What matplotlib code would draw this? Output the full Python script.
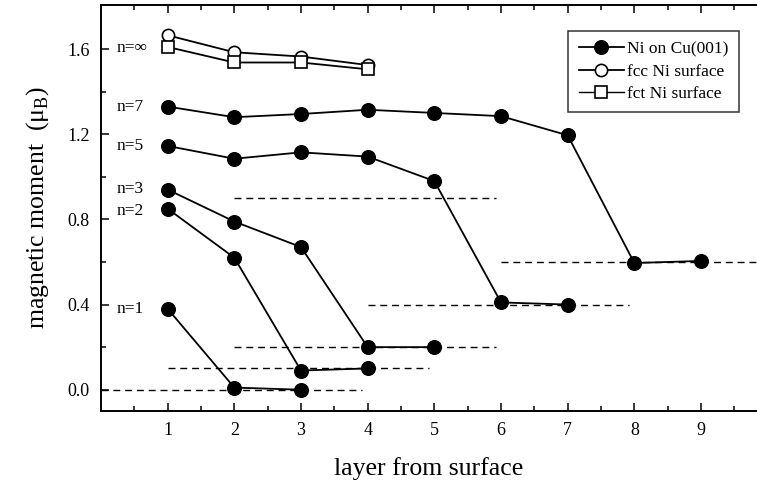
import matplotlib
matplotlib.use('Agg')
import matplotlib.pyplot as plt

plt.rcParams['font.family'] = ['Liberation Serif', 'DejaVu Serif']
plt.rcParams['mathtext.fontset'] = 'custom'
plt.rcParams['mathtext.rm'] = 'Liberation Serif'

# Ni on Cu(001), n layers
layers = [1, 2, 3, 4, 5, 6, 7, 8, 9]
ni_n1 = [0.38, 0.01, 0.00]
ni_n2 = [0.85, 0.62, 0.09, 0.10]
ni_n3 = [0.94, 0.79, 0.67, 0.20, 0.20]
ni_n5 = [1.145, 1.085, 1.115, 1.095, 0.98, 0.41, 0.40]
ni_n7 = [1.33, 1.28, 1.295, 1.315, 1.30, 1.285, 1.195, 0.595, 0.605]

# bulk-like surfaces
fcc_surf = [1.665, 1.585, 1.565, 1.525]
fct_surf = [1.61, 1.537, 1.537, 1.505]

# dashed reference levels
dash_y = [0.0, 0.1, 0.2, 0.9, 0.4, 0.6]
dash_x0 = [0, 1, 2, 2, 4, 6]
dash_x1 = [3.92, 4.92, 5.92, 5.92, 7.92, 10]

label_text = ['n=∞', 'n=7', 'n=5', 'n=3', 'n=2', 'n=1']
label_y = [1.605, 1.33, 1.145, 0.945, 0.84, 0.38]

fig = plt.figure(figsize=(7.57, 4.82), dpi=100)
ax = fig.add_axes([0.1334, 0.1473, 0.8666, 0.8423])

for y, a, b in zip(dash_y, dash_x0, dash_x1):
    ax.plot([a, b], [y, y], color='black', linestyle=(0, (5, 3.5)), linewidth=1.0, zorder=1)

ms = 9.8
lw = 1.3
for vals in [ni_n1, ni_n2, ni_n3, ni_n5, ni_n7]:
    ax.plot(layers[:len(vals)], vals, '-o', color='black', markersize=ms,
            linewidth=lw, zorder=3)

ax.plot(layers[:4], fcc_surf, '-o', color='black', markerfacecolor='white',
        markersize=8.8, markeredgewidth=1.2, linewidth=lw, zorder=3)
ax.plot(layers[:4], fct_surf, '-s', color='black', markerfacecolor='white',
        markersize=8.2, markeredgewidth=1.2, linewidth=lw, zorder=4)

# legend proxies
h1, = ax.plot([], [], '-o', color='black', markersize=ms, linewidth=lw)
h2, = ax.plot([], [], '-o', color='black', markerfacecolor='white', markersize=8.8,
              markeredgewidth=1.2, linewidth=lw)
h3, = ax.plot([], [], '-s', color='black', markerfacecolor='white', markersize=8.2,
              markeredgewidth=1.2, linewidth=1.0)
leg = ax.legend([h1, h2, h3], ['Ni on Cu(001)', 'fcc Ni surface', 'fct Ni surface'],
                loc='upper right', bbox_to_anchor=(0.988, 0.954),
                bbox_transform=fig.transFigure, fontsize=12.5, frameon=True,
                fancybox=False, edgecolor='black', handlelength=2.6,
                handletextpad=0.2, borderpad=0.6, labelspacing=0.35)
leg.get_frame().set_linewidth(1.1)

for t, y in zip(label_text, label_y):
    ax.text(0.24, y, t, fontsize=12.5, ha='left', va='center')

ax.set_xlim(0, 9.84)
ax.set_ylim(-0.1, 1.807)
ax.set_xticks(layers)
ax.set_xticks([i + 0.5 for i in range(10)], minor=True)
ax.set_yticks([0.0, 0.4, 0.8, 1.2, 1.6])
ax.set_yticks([0.2, 0.6, 1.0, 1.4], minor=True)
ax.set_yticklabels(['0.0', '0.4', '0.8', '1.2', '1.6'])

ax.tick_params(which='both', direction='in', top=True, right=False, labelsize=13,
               width=1.1, pad=8)
ax.tick_params(which='major', length=6)
ax.tick_params(which='minor', length=3.5)
ax.spines['right'].set_visible(False)
for s in ['left', 'top', 'bottom']:
    ax.spines[s].set_linewidth(1.4)

ax.set_xlabel('layer from surface', fontsize=18.5, labelpad=13)
ax.set_ylabel('magnetic moment  (μ$_\\mathrm{B}$)', fontsize=18.5, labelpad=12)

fig.savefig('out.png', dpi=100)
